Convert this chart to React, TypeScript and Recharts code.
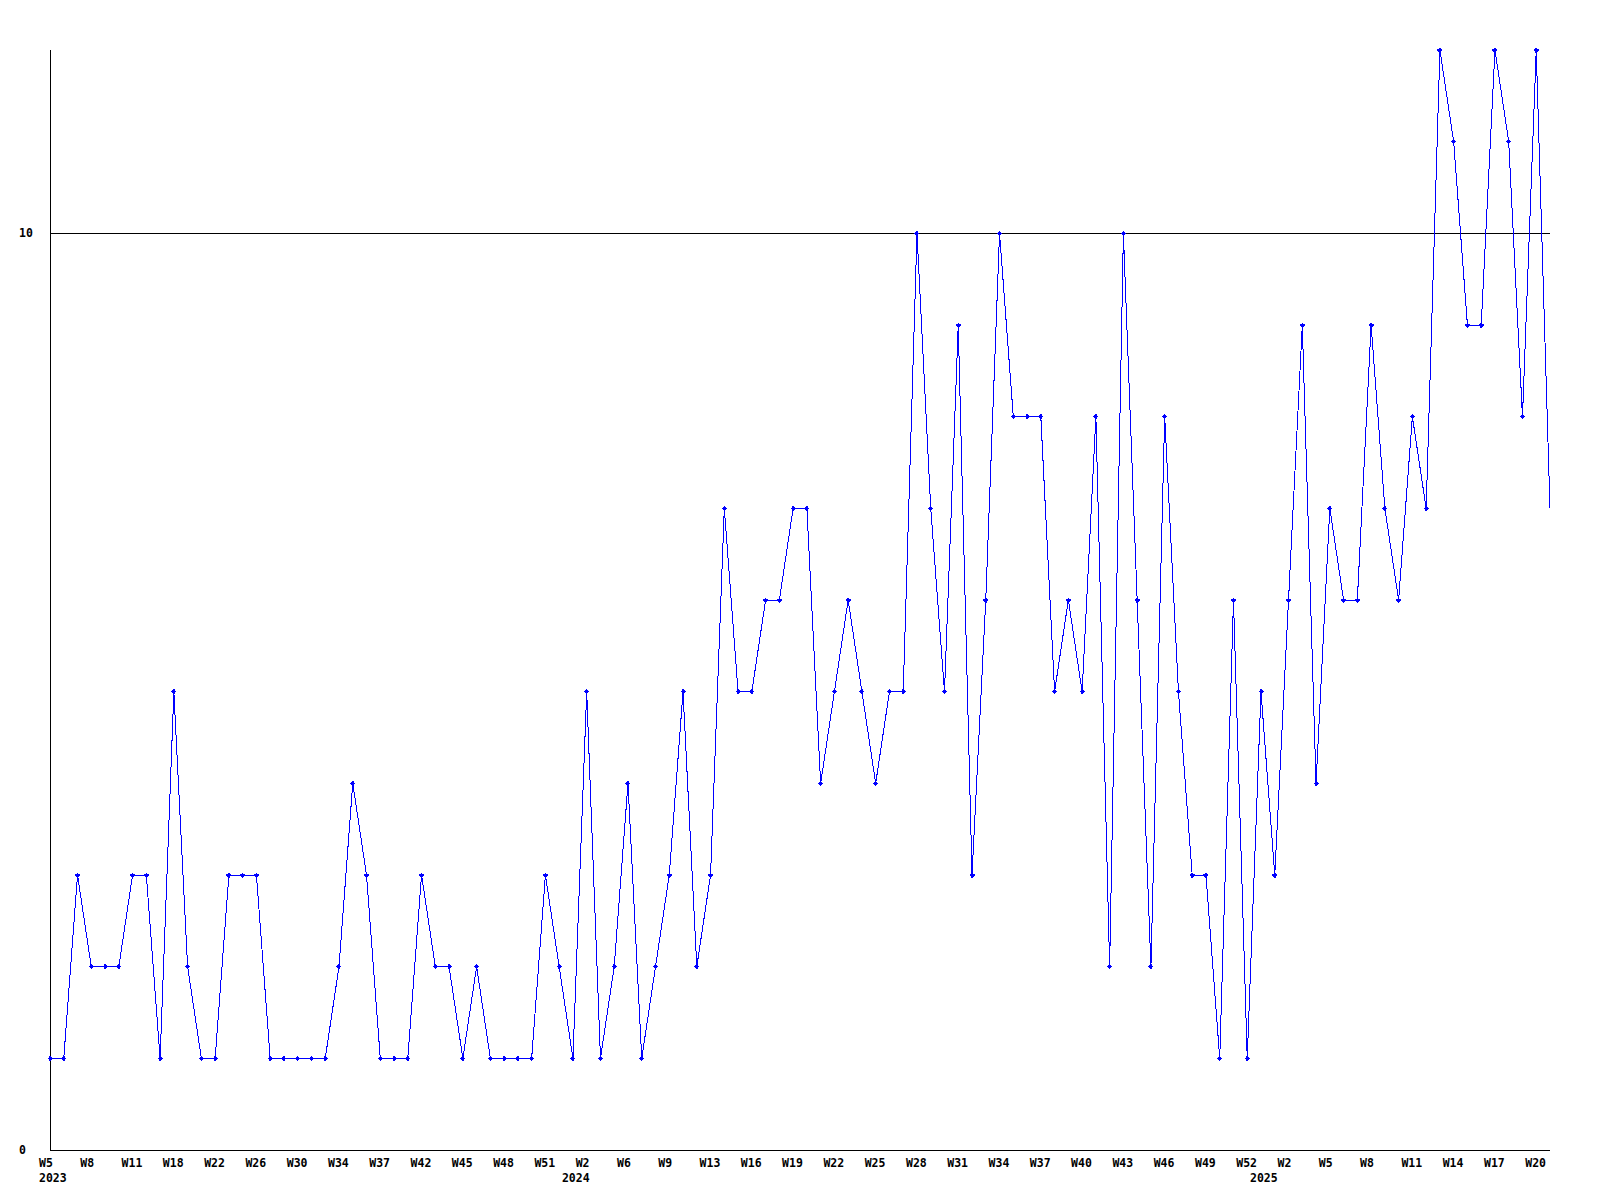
import { LineChart, Line, XAxis, YAxis, ReferenceLine } from "recharts";

// week labels per year, in the order they appear on the axis
const weeks2023 = [
  "W5", "W6", "W7", "W8", "W9", "W10", "W11", "W12", "W15", "W18", "W19", "W20", "W22",
  "W23", "W25", "W26", "W27", "W28", "W30", "W31", "W32", "W34", "W35", "W36", "W37",
  "W39", "W40", "W42", "W43", "W44", "W45", "W46", "W47", "W48", "W49", "W50", "W51", "W52",
];
const weeks2024 = [
  "W1", "W2", "W4", "W5", "W6", "W7", "W8", "W9", "W10", "W12", "W13", "W14", "W15",
  "W16", "W17", "W18", "W19", "W20", "W21", "W22", "W23", "W24", "W25", "W26", "W27",
  "W28", "W29", "W30", "W31", "W32", "W33", "W34", "W35", "W36", "W37", "W38", "W39",
  "W40", "W41", "W42", "W43", "W44", "W45", "W46", "W47", "W48", "W49", "W50", "W51", "W52",
];
const weeks2025 = [
  "W0", "W1", "W2", "W3", "W4", "W5", "W6", "W7", "W8", "W9", "W10", "W11", "W12",
  "W13", "W14", "W15", "W16", "W17", "W18", "W19", "W20", "W21",
];

const counts = [
  1, 1, 3, 2, 2, 2, 3, 3, 1, 5,
  2, 1, 1, 3, 3, 3, 1, 1, 1, 1,
  1, 2, 4, 3, 1, 1, 1, 3, 2, 2,
  1, 2, 1, 1, 1, 1, 3, 2, 1, 5,
  1, 2, 4, 1, 2, 3, 5, 2, 3, 7,
  5, 5, 6, 6, 7, 7, 4, 5, 6, 5,
  4, 5, 5, 10, 7, 5, 9, 3, 6, 10,
  8, 8, 8, 5, 6, 5, 8, 2, 10, 6,
  2, 8, 5, 3, 3, 1, 6, 1, 5, 3,
  6, 9, 4, 7, 6, 6, 9, 7, 6, 8,
  7, 12, 11, 9, 9, 12, 11, 8, 12, 7,
];

const yTicks = [0, 10];

const weekRows = [
  ...weeks2023.map((w) => ({ year: "2023", week: w })),
  ...weeks2024.map((w) => ({ year: "2024", week: w })),
  ...weeks2025.map((w) => ({ year: "2025", week: w })),
];

const data = weekRows.map((r, i) => ({
  key: `${r.year}-${r.week}`,
  week: r.week,
  year: r.year,
  count: counts[i],
}));

const FONT = "'DejaVu Sans Mono', 'Liberation Mono', monospace";

function WeekTick(props: any) {
  const { x, y, payload } = props;
  const i = payload?.index ?? props.index;
  const d = data[i];
  if (!d) return null;
  const showWeek = i % 3 === 0;
  const showYear = i === 0 || data[i - 1].year !== d.year;
  if (!showWeek && !showYear) return <g />;
  return (
    <g>
      {showWeek && (
        <text x={x - 11} y={y + 17} textAnchor="start" fontFamily={FONT} fontWeight="bold" fontSize={11.5} fill="#000">
          {d.week}
        </text>
      )}
      {showYear && (
        <text x={x - 11} y={y + 32} textAnchor="start" fontFamily={FONT} fontWeight="bold" fontSize={11.5} fill="#000">
          {d.year}
        </text>
      )}
    </g>
  );
}

function CountTick(props: any) {
  const { y, payload } = props;
  return (
    <text x={19} y={y + 4} textAnchor="start" fontFamily={FONT} fontWeight="bold" fontSize={11.5} fill="#000">
      {payload.value}
    </text>
  );
}

function Marker(props: any) {
  const { cx, cy, index } = props;
  if (index === data.length - 1 || cx == null) return <g key={`m-${index}`} />;
  return (
    <g key={`m-${index}`}>
      <path d={`M${cx - 2.5},${cy} h5 M${cx},${cy - 2.5} v5`} stroke="#0000ff" strokeWidth={1.5} />
      <rect x={cx - 1.5} y={cy - 1.5} width={3} height={3} fill="#0000ff" />
    </g>
  );
}

export default function App() {
  return (
    <div style={{ position: "absolute", left: 0, top: 0, background: "#fff" }}>
      <LineChart
        width={1600}
        height={1200}
        data={data}
        margin={{ top: 50, right: 50, bottom: 0, left: 0 }}
        style={{ shapeRendering: "crispEdges" }}
      >
        <XAxis
          dataKey="key"
          interval={0}
          height={50}
          tickLine={false}
          tickSize={0}
          tickMargin={0}
          axisLine={{ stroke: "#000" }}
          tick={<WeekTick />}
        />
        <YAxis
          type="number"
          domain={[0, 12]}
          ticks={yTicks}
          width={50}
          tickLine={false}
          tickSize={0}
          tickMargin={0}
          axisLine={{ stroke: "#000" }}
          tick={<CountTick />}
        />
        <ReferenceLine y={10} stroke="#000" />
        <Line
          type="linear"
          dataKey="count"
          stroke="#0000ff"
          strokeWidth={1}
          dot={<Marker />}
          activeDot={false}
          isAnimationActive={false}
        />
      </LineChart>
    </div>
  );
}
